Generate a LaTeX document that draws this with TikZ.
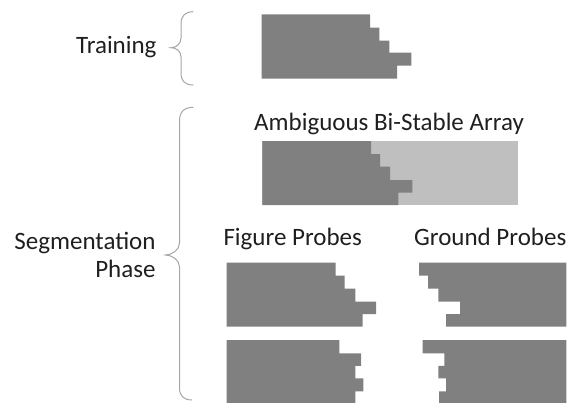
\documentclass[tikz,border=0pt]{standalone}
\usepackage{fontspec}
\setmainfont{Carlito}
\definecolor{darkfill}{HTML}{808080}
\definecolor{lightfill}{HTML}{BFBFBF}
\definecolor{bracecol}{HTML}{A6A6A6}
\definecolor{textcol}{HTML}{1F1F1F}
\begin{document}
\begin{tikzpicture}[x=1pt,y=-1pt,
  lbl/.style={inner sep=0pt, text=textcol, font=\fontsize{25}{28}\selectfont},
  darkshape/.style={fill=darkfill, draw=none},
  lightshape/.style={fill=lightfill, draw=none},
  bracepath/.style={draw=bracecol, line width=1pt}]
\useasboundingbox (0,0) rectangle (573,402);
\clip (0,0) rectangle (573,402);

% labels
\node[lbl, anchor=base east] (train) at (156.7,53.3) {Training};
\node[lbl, anchor=base east, align=right] (seg) at (155.7,277.3) {Segmentation\\Phase};
\node[lbl, anchor=base west] (amb) at (254,130) {Ambiguous Bi-Stable Array};
\node[lbl, anchor=base west] (fig) at (223.3,245.7) {Figure Probes};
\node[lbl, anchor=base west] (gnd) at (414,245.7) {Ground Probes};

% braces
\draw[bracepath] (193.3,11.7) .. controls (185,11.7) and (181,16) .. (181,24) -- (181,38)
  .. controls (181,44) and (176,47.7) .. (171,47.7)
  .. controls (176,47.7) and (181,51) .. (181,57) -- (181,73)
  .. controls (181,81) and (185,85) .. (193.3,85);
\draw[bracepath] (193.3,107.3) .. controls (184,107.3) and (179.5,112) .. (179.5,121) -- (179.5,243)
  .. controls (179.5,250) and (172,255) .. (165.5,255)
  .. controls (172,255) and (179.5,260) .. (179.5,267) -- (179.5,388)
  .. controls (179.5,396) and (184,400) .. (192,400);

% training array
\path[darkshape] (261.5,14.3) -- (370,14.3) -- (370,27.5) -- (379.3,27.5) -- (379.3,40.5) -- (389.3,40.5) -- (389.3,52.7) -- (411.3,52.7) -- (411.3,65.7) -- (397,65.7) -- (397,78.7) -- (261.5,78.7) -- cycle;

% ambiguous bi-stable array
\path[lightshape] (262.3,141) rectangle (518.3,205);
\path[darkshape] (262.3,141) -- (371,141) -- (371,154) -- (380,154) -- (380,166.7) -- (390,166.7) -- (390,180) -- (412.3,180) -- (412.3,192.7) -- (398.3,192.7) -- (398.3,205) -- (262.3,205) -- cycle;

% figure probes
\path[darkshape] (226.7,262.7) -- (335.7,262.7) -- (335.7,275.5) -- (344.7,275.5) -- (344.7,288.5) -- (355.3,288.5) -- (355.3,301.5) -- (376,301.5) -- (376,314.2) -- (362.7,314.2) -- (362.7,326.7) -- (226.7,326.7) -- cycle;
\path[darkshape] (226.7,340) -- (339.3,340) -- (339.3,353.3) -- (361,353.3) -- (361,365.8) -- (355.3,365.8) -- (355.3,378.3) -- (363.3,378.3) -- (363.3,391.3) -- (355.3,391.3) -- (355.3,404) -- (226.7,404) -- cycle;

% ground probes
\path[darkshape] (566.3,262.7) -- (419,262.7) -- (419,275.5) -- (428,275.5) -- (428,288.5) -- (438.3,288.5) -- (438.3,301.5) -- (460,301.5) -- (460,314.2) -- (446,314.2) -- (446,326.7) -- (566.3,326.7) -- cycle;
\path[darkshape] (566.3,340) -- (422.7,340) -- (422.7,353.3) -- (444.3,353.3) -- (444.3,365.8) -- (438.3,365.8) -- (438.3,378.3) -- (446,378.3) -- (446,391.3) -- (439,391.3) -- (439,404) -- (566.3,404) -- cycle;
\end{tikzpicture}
\end{document}
